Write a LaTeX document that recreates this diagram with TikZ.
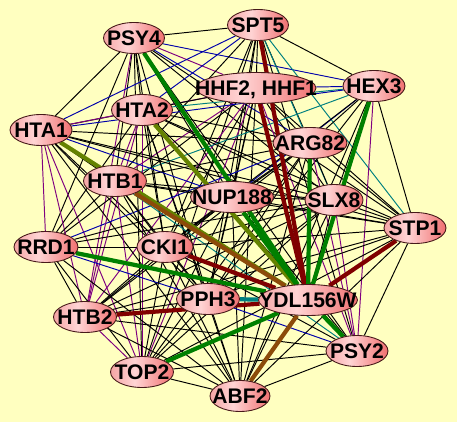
\documentclass[tikz,border=0pt]{standalone}
\usepackage{fontspec}
\setmainfont{Liberation Sans}
\usetikzlibrary{shapes.geometric,backgrounds}

\definecolor{bgyellow}{RGB}{255,255,192}
\definecolor{generim}{RGB}{70,25,25}
\definecolor{geneleft}{RGB}{245,165,165}
\definecolor{genemid}{RGB}{255,212,212}
\definecolor{generight}{RGB}{240,112,112}
\definecolor{maroonc}{RGB}{128,0,0}
\definecolor{leafc}{RGB}{0,128,0}
\definecolor{mossc}{RGB}{100,130,0}
\definecolor{rustc}{RGB}{140,75,10}
\definecolor{tealc}{RGB}{0,128,128}
\definecolor{plumc}{RGB}{128,0,128}
\definecolor{navyc}{RGB}{0,0,170}

\pgfdeclarehorizontalshading{genefill}{100bp}{color(0bp)=(geneleft); color(25bp)=(geneleft);
    color(44bp)=(genemid); color(75bp)=(generight); color(100bp)=(generight)}

\begin{document}
\begin{tikzpicture}[x=0.02cm,y=-0.02cm,
    gene/.style={ellipse,draw=generim,line width=0.5pt,inner sep=0pt,
        minimum height=0.62cm,shading=genefill,
        font=\bfseries\fontsize{12}{13}\selectfont,text height=8.6pt,text depth=0pt},
    link/.style={draw=black,line width=0.55pt},
    plink/.style={draw=plumc,line width=0.55pt},
    blink/.style={draw=navyc,line width=0.55pt},
    tlink/.style={draw=tealc,line width=0.55pt},
    hub/.style={line width=2.4pt}]
    \useasboundingbox (0,0) rectangle (457,422);

    \node (psy4)   at (134,38)  [gene,minimum width=1.22cm] {\makebox[0pt]{PSY4}};
    \node (spt5)   at (258,25)  [gene,minimum width=1.22cm] {\makebox[0pt]{SPT5}};
    \node (hhf)    at (256,88)  [gene,minimum width=2.40cm] {\makebox[0pt]{HHF2, HHF1}};
    \node (hex3)   at (374,86)  [gene,minimum width=1.24cm] {\makebox[0pt]{HEX3}};
    \node (hta2)   at (142,110) [gene,minimum width=1.22cm] {\makebox[0pt]{HTA2}};
    \node (hta1)   at (41,130)  [gene,minimum width=1.24cm] {\makebox[0pt]{HTA1}};
    \node (arg82)  at (310,143) [gene,minimum width=1.48cm] {\makebox[0pt]{ARG82}};
    \node (htb1)   at (115,181) [gene,minimum width=1.26cm] {\makebox[0pt]{HTB1}};
    \node (nup188) at (232,197) [gene,minimum width=1.66cm] {\makebox[0pt]{NUP188}};
    \node (slx8)   at (334,200) [gene,minimum width=1.16cm] {\makebox[0pt]{SLX8}};
    \node (stp1)   at (415,228) [gene,minimum width=1.24cm] {\makebox[0pt]{STP1}};
    \node (rrd1)   at (46,247)  [gene,minimum width=1.28cm] {\makebox[0pt]{RRD1}};
    \node (cki1)   at (165,247) [gene,minimum width=1.12cm] {\makebox[0pt]{CKI1}};
    \node (pph3)   at (208,299) [gene,minimum width=1.26cm] {\makebox[0pt]{PPH3}};
    \node (ydl)    at (308,300) [gene,minimum width=1.98cm] {\makebox[0pt]{YDL156W}};
    \node (htb2)   at (85,317)  [gene,minimum width=1.26cm] {\makebox[0pt]{HTB2}};
    \node (psy2)   at (357,351) [gene,minimum width=1.24cm] {\makebox[0pt]{PSY2}};
    \node (top2)   at (142,372) [gene,minimum width=1.26cm] {\makebox[0pt]{TOP2}};
    \node (abf2)   at (240,396) [gene,minimum width=1.20cm] {\makebox[0pt]{ABF2}};

    \begin{pgfonlayer}{background}
    \fill[bgyellow] (0,0) rectangle (457,422);

    % thin interactions
    \draw[link]  (psy4) to (spt5);
    \draw[plink] (psy4) to (hhf);
    \draw[blink] (psy4) to (hex3);
    \draw[link]  (psy4) to (hta2);
    \draw[link]  (psy4) to (hta1);
    \draw[blink] (psy4) to (arg82);
    \draw[link]  (psy4) to (htb1);
    \draw[link]  (psy4) to (nup188);
    \draw[link]  (psy4) to (slx8);
    \draw[link]  (psy4) to (stp1);
    \draw[link]  (psy4) to (rrd1);
    \draw[link]  (psy4) to (cki1);
    \draw[link]  (psy4) to (pph3);
    \draw[plink] (psy4) to (htb2);
    \draw[link]  (psy4) to (top2);
    \draw[link]  (psy4) to (psy2);

    \draw[link]  (spt5) to (hex3);
    \draw[link]  (spt5) to (hhf);
    \draw[blink] (spt5) to (hta2);
    \draw[blink] (spt5) to (hta1);
    \draw[link]  (spt5) to (arg82);
    \draw[tlink] (spt5) to (slx8);
    \draw[tlink] (spt5) to (stp1);
    \draw[link]  (spt5) to (nup188);
    \draw[link]  (spt5) to (htb1);
    \draw[link]  (spt5) to (cki1);
    \draw[link]  (spt5) to (pph3);
    \draw[link]  (spt5) to (top2);
    \draw[link]  (spt5) to (psy2);

    \draw[blink] (hhf) to (hex3);
    \draw[plink] (hhf) to (hta2);
    \draw[link]  (hhf) to (hta1);
    \draw[link]  (hhf) to (arg82);
    \draw[plink] (hhf) to (htb1);
    \draw[link]  (hhf) to (nup188);
    \draw[link]  (hhf) to (slx8);
    \draw[link]  (hhf) to (stp1);
    \draw[link]  (hhf) to (rrd1);
    \draw[link]  (hhf) to (cki1);
    \draw[link]  (hhf) to (pph3);
    \draw[plink] (hhf) to (htb2);
    \draw[plink] (hhf) to (top2);
    \draw[plink] (hhf) to (psy2);
    \draw[link]  (hhf) to (abf2);

    \draw[tlink] (hex3) to (hta2);
    \draw[blink] (hex3) to (hta1);
    \draw[link]  (hex3) to (arg82);
    \draw[tlink] (hex3) to (htb1);
    \draw[blink] (hex3) to (nup188);
    \draw[link]  (hex3) to (slx8);
    \draw[link]  (hex3) to (stp1);
    \draw[plink] (hex3) to (psy2);
    \draw[link]  (hex3) to (cki1);
    \draw[link]  (hex3) to (pph3);
    \draw[link]  (hex3) to (abf2);

    \draw[plink] (hta2) to (hta1);
    \draw[link]  (hta2) to (arg82);
    \draw[plink] (hta2) to (htb1);
    \draw[link]  (hta2) to (nup188);
    \draw[link]  (hta2) to (slx8);
    \draw[link]  (hta2) to (stp1);
    \draw[link]  (hta2) to (rrd1);
    \draw[link]  (hta2) to (cki1);
    \draw[link]  (hta2) to (pph3);
    \draw[plink] (hta2) to (htb2);
    \draw[plink] (hta2) to (top2);
    \draw[link]  (hta2) to (psy2);
    \draw[link]  (hta2) to (abf2);

    \draw[link]  (hta1) to (arg82);
    \draw[link]  (hta1) to (htb1);
    \draw[blink] (hta1) to (nup188);
    \draw[link]  (hta1) to (slx8);
    \draw[link]  (hta1) to (stp1);
    \draw[plink] (hta1) to (rrd1);
    \draw[link]  (hta1) to (cki1);
    \draw[link]  (hta1) to (pph3);
    \draw[plink] (hta1) to (htb2);
    \draw[plink] (hta1) to (top2);
    \draw[link]  (hta1) to (abf2);

    \draw[link]  (arg82) to (nup188);
    \draw[link]  (arg82) to (slx8);
    \draw[link]  (arg82) to (stp1);
    \draw[link]  (arg82) to (htb1);
    \draw[link]  (arg82) to (cki1);
    \draw[link]  (arg82) to (pph3);
    \draw[blink] (arg82) to (rrd1);
    \draw[link]  (arg82) to (htb2);
    \draw[link]  (arg82) to (top2);
    \draw[plink] (arg82) to (psy2);
    \draw[link]  (arg82) to (abf2);

    \draw[link]  (htb1) to (nup188);
    \draw[link]  (htb1) to (slx8);
    \draw[link]  (htb1) to (stp1);
    \draw[link]  (htb1) to (rrd1);
    \draw[link]  (htb1) to (cki1);
    \draw[link]  (htb1) to (pph3);
    \draw[plink] (htb1) to (htb2);
    \draw[plink] (htb1) to (top2);
    \draw[tlink] (htb1) to (psy2);
    \draw[link]  (htb1) to (abf2);

    \draw[link]  (nup188) to (slx8);
    \draw[link]  (nup188) to (stp1);
    \draw[link]  (nup188) to (rrd1);
    \draw[link]  (nup188) to (cki1);
    \draw[link]  (nup188) to (pph3);
    \draw[link]  (nup188) to (htb2);
    \draw[link]  (nup188) to (top2);
    \draw[link]  (nup188) to (psy2);
    \draw[link]  (nup188) to (abf2);

    \draw[link]  (slx8) to (stp1);
    \draw[link]  (slx8) to (ydl);
    \draw[link]  (slx8) to (rrd1);
    \draw[link]  (slx8) to (cki1);
    \draw[link]  (slx8) to (pph3);
    \draw[link]  (slx8) to (htb2);
    \draw[link]  (slx8) to (top2);
    \draw[plink] (slx8) to (psy2);
    \draw[link]  (slx8) to (abf2);

    \draw[link]  (stp1) to (cki1);
    \draw[link]  (stp1) to (pph3);
    \draw[link]  (stp1) to (htb2);
    \draw[link]  (stp1) to (top2);
    \draw[link]  (stp1) to (psy2);
    \draw[link]  (stp1) to (abf2);

    \draw[link]  (rrd1) to (cki1);
    \draw[blink] (rrd1) to (pph3);
    \draw[link]  (rrd1) to (htb2);
    \draw[link]  (rrd1) to (top2);
    \draw[link]  (rrd1) to (abf2);

    \draw[link]  (cki1) to (pph3);
    \draw[link]  (cki1) to (htb2);
    \draw[link]  (cki1) to (top2);
    \draw[link]  (cki1) to (psy2);
    \draw[link]  (cki1) to (abf2);

    \draw[link]  (pph3) to (htb2);
    \draw[link]  (pph3) to (top2);
    \draw[blink] (pph3) to (psy2);
    \draw[link]  (pph3) to (abf2);

    \draw[plink] (htb2) to (top2);
    \draw[link]  (htb2) to (psy2);
    \draw[link]  (htb2) to (abf2);

    \draw[link]  (psy2) to (abf2);
    \draw[link]  (psy2) to (top2);
    \draw[link]  (top2) to (abf2);

    % strong interactions with YDL156W
    \draw[hub,leafc]   (psy4)   to (ydl);
    \draw[hub,maroonc] (spt5)   to (ydl);
    \draw[hub,maroonc] (hhf)    to (ydl);
    \draw[hub,leafc]   (hex3)   to (ydl);
    \draw[hub,leafc]   (arg82)  to (ydl);
    \draw[hub,mossc]   (hta2)   to (ydl);
    \draw[hub,mossc]   (hta1)   to (ydl);
    \draw[hub,rustc]   (htb1)   to (ydl);
    \draw[hub,leafc]   (nup188) to (ydl);
    \draw[hub,leafc]   (rrd1)   to (ydl);
    \draw[hub,maroonc] (cki1)   to (ydl);
    \draw[hub,maroonc] (htb2)   to (ydl);
    \draw[hub,tealc]   (pph3)   to (ydl);
    \draw[hub,leafc]   (top2)   to (ydl);
    \draw[hub,rustc]   (abf2)   to (ydl);
    \draw[hub,leafc]   (psy2)   to (ydl);
    \draw[hub,maroonc] (stp1)   to (ydl);
    \end{pgfonlayer}

\end{tikzpicture}
\end{document}
